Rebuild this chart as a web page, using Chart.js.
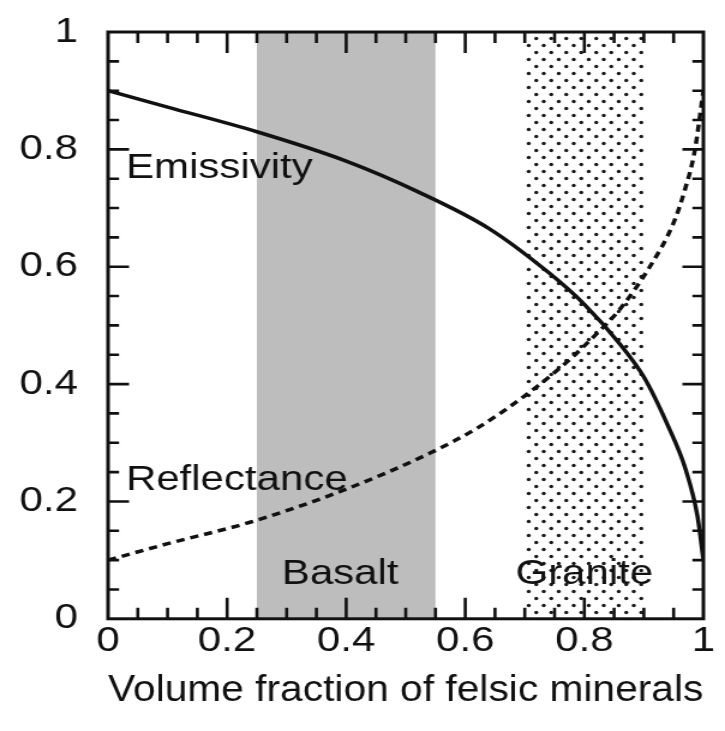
<!DOCTYPE html>
<html>
<head>
<meta charset="utf-8">
<script src="https://cdn.jsdelivr.net/npm/chart.js@4.4.0/dist/chart.umd.min.js"></script>
<style>
  html, body { margin: 0; padding: 0; background: #fff; overflow: hidden; }
</style>
</head>
<body>
<!-- el original viene estirado en horizontal, por eso el canvas es mas estrecho y se estira con css -->
<canvas id="grafico" width="604" height="731" style="width:725px;height:731px;display:block"></canvas>
<script>
// Emisividad (linea continua)
const emisX = [0, 0.1, 0.25, 0.4, 0.52, 0.64, 0.74, 0.8, 0.86, 0.9, 0.94, 0.97, 0.99, 1];
const emisY = [0.9, 0.872, 0.83, 0.78, 0.728, 0.665, 0.59, 0.536, 0.468, 0.412, 0.33, 0.255, 0.175, 0.1];

// Reflectancia (linea discontinua)
const reflX = [0, 0.1, 0.24, 0.39, 0.54, 0.62, 0.7, 0.77, 0.82, 0.86, 0.91, 0.95, 0.97, 0.985, 1];
const reflY = [0.1, 0.128, 0.165, 0.217, 0.282, 0.325, 0.38, 0.437, 0.485, 0.528, 0.6, 0.675, 0.735, 0.795, 0.9];

// bandas de roca
const basalto = [0.25, 0.55];
const granito = [0.7, 0.9];

// marcas de los ejes
const ticksX = [0, 0.2, 0.4, 0.6, 0.8, 1];
const ticksY = [0, 0.2, 0.4, 0.6, 0.8, 1];
const pasoMenor = 0.05;

const FUENTE = '"Liberation Sans", Arial, Helvetica, sans-serif';
const NEGRO = "#111";

// =====================================================
// PATRON DE PUNTOS (GRANITO)
// =====================================================
function patronPuntos(ctx) {
  const c = document.createElement("canvas");
  c.width = 25;
  c.height = 14;
  const p = c.getContext("2d");
  p.fillStyle = "#1a1a1a";
  [[3, 3.5], [15.5, 3.5], [9.25, 10.5], [21.75, 10.5]].forEach(([px, py]) => {
    p.beginPath();
    p.arc(px, py, 1.7, 0, Math.PI * 2);
    p.fill();
  });
  return ctx.createPattern(c, "repeat");
}

// =====================================================
// FONDO: BANDAS Y ETIQUETAS
// =====================================================
const fondo = {
  id: "fondo",
  beforeDatasetsDraw(chart) {
    const { ctx, chartArea: a, scales: { x, y } } = chart;
    ctx.save();

    const b0 = x.getPixelForValue(basalto[0]);
    const b1 = x.getPixelForValue(basalto[1]);
    ctx.fillStyle = "#bdbdbd";
    ctx.fillRect(b0, a.top, b1 - b0, a.bottom - a.top);

    const g0 = x.getPixelForValue(granito[0]);
    const g1 = x.getPixelForValue(granito[1]);
    ctx.fillStyle = patronPuntos(ctx);
    ctx.fillRect(g0, a.top, g1 - g0, a.bottom - a.top);

    ctx.fillStyle = NEGRO;
    ctx.font = "35px " + FUENTE;
    ctx.textBaseline = "alphabetic";

    ctx.textAlign = "left";
    ctx.fillText("Emissivity", x.getPixelForValue(0.03), y.getPixelForValue(0.752));
    ctx.fillText("Reflectance", x.getPixelForValue(0.03), y.getPixelForValue(0.22));

    ctx.textAlign = "center";
    ctx.fillText("Basalt", x.getPixelForValue(0.39), y.getPixelForValue(0.059));
    ctx.fillText("Granite", x.getPixelForValue(0.80), y.getPixelForValue(0.06));

    ctx.restore();
  },

  // marco y marcas hacia dentro
  afterDatasetsDraw(chart) {
    const { ctx, chartArea: a, scales: { x, y } } = chart;
    ctx.save();
    ctx.strokeStyle = NEGRO;
    ctx.lineWidth = 2.6;
    ctx.beginPath();
    const n = Math.round(1 / pasoMenor);
    for (let i = 1; i < n; i++) {
      const v = i * pasoMenor;
      const mayor = i % 4 === 0;
      const lv = mayor ? 21 : 11;   // marcas verticales
      const lh = mayor ? 17.5 : 9.2; // marcas horizontales (canvas estirado)
      const px = x.getPixelForValue(v);
      const py = y.getPixelForValue(v);
      ctx.moveTo(px, a.bottom); ctx.lineTo(px, a.bottom - lv);
      ctx.moveTo(px, a.top); ctx.lineTo(px, a.top + lv);
      ctx.moveTo(a.left, py); ctx.lineTo(a.left + lh, py);
      ctx.moveTo(a.right, py); ctx.lineTo(a.right - lh, py);
    }
    ctx.stroke();

    ctx.lineWidth = 3;
    ctx.strokeRect(a.left, a.top, a.right - a.left, a.bottom - a.top);
    ctx.restore();
  }
};

// =====================================================
// GRAFICO
// =====================================================
const ctx = document.getElementById("grafico");

new Chart(ctx, {
  type: "line",
  data: {
    datasets: [
      {
        label: "Emissivity",
        data: emisX.map((v, i) => ({ x: v, y: emisY[i] })),
        borderColor: NEGRO,
        borderWidth: 3.5,
        pointRadius: 0,
        cubicInterpolationMode: "monotone",
        fill: false
      },
      {
        label: "Reflectance",
        data: reflX.map((v, i) => ({ x: v, y: reflY[i] })),
        borderColor: NEGRO,
        borderWidth: 3.5,
        borderDash: [7, 5],
        pointRadius: 0,
        cubicInterpolationMode: "monotone",
        fill: false
      }
    ]
  },
  options: {
    responsive: false,
    devicePixelRatio: 1,
    animation: false,
    events: [],
    layout: { padding: { left: 16, right: 18, top: 32, bottom: 0 } },
    plugins: {
      legend: { display: false },
      tooltip: { enabled: false }
    },
    scales: {
      x: {
        type: "linear",
        min: 0,
        max: 1,
        grid: { display: false, drawTicks: false },
        border: { display: false },
        afterBuildTicks: s => { s.ticks = ticksX.map(v => ({ value: v })); },
        ticks: {
          color: NEGRO,
          font: { family: FUENTE, size: 35 },
          padding: 2,
          maxRotation: 0,
          autoSkip: false,
          callback: v => String(v)
        },
        title: {
          display: true,
          text: "Volume fraction of felsic minerals",
          color: NEGRO,
          font: { family: FUENTE, size: 36 },
          padding: { top: 5, bottom: 18 }
        }
      },
      y: {
        type: "linear",
        min: 0,
        max: 1,
        grid: { display: false, drawTicks: false },
        border: { display: false },
        afterBuildTicks: s => { s.ticks = ticksY.map(v => ({ value: v })); },
        afterFit: s => {
          s.width = 74;
          s.paddingTop = 0;
          s.paddingBottom = 0;
        },
        ticks: {
          color: NEGRO,
          font: { family: FUENTE, size: 35 },
          padding: 25,
          autoSkip: false,
          callback: v => String(v)
        }
      }
    }
  },
  plugins: [fondo]
});
</script>
</body>
</html>
